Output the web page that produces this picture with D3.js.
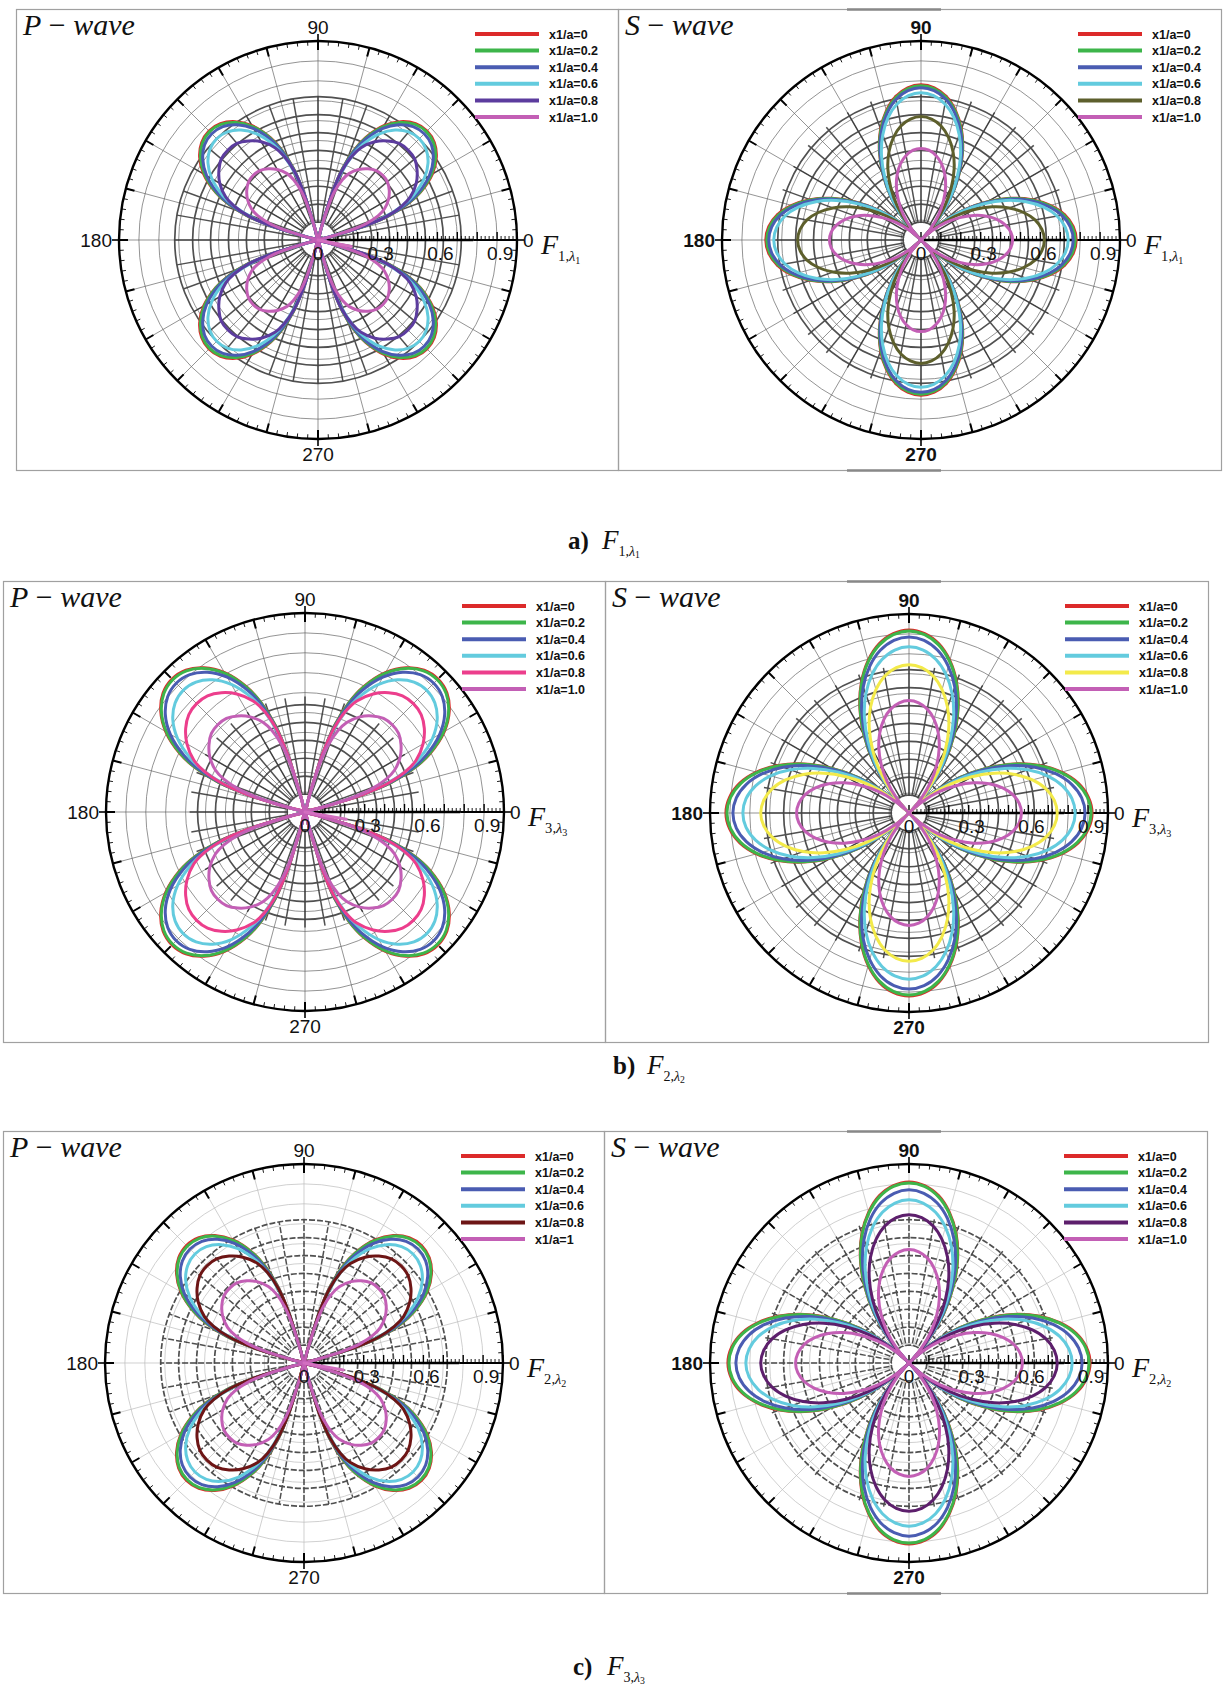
<!DOCTYPE html>
<html><head><meta charset="utf-8">
<script src="https://cdn.jsdelivr.net/npm/d3@7"></script>
<style>body{margin:0;background:#fff} svg{display:block}</style>
</head><body>
<svg id="chart" width="1223" height="1693"></svg>
<script>
// ---------- DATA ----------
const seriesLabels  = ["x1/a=0","x1/a=0.2","x1/a=0.4","x1/a=0.6","x1/a=0.8","x1/a=1.0"];
const seriesLabelsC = ["x1/a=0","x1/a=0.2","x1/a=0.4","x1/a=0.6","x1/a=0.8","x1/a=1"];
const angleLabels = [0, 90, 180, 270];
const radialTicks = [0, 0.3, 0.6, 0.9];
// angular offset (deg) from each lobe axis, at which radii were read
const devP = [0, 5, 10, 15, 20, 23, 26, 28, 30];
const devS = [0, 5, 10, 15, 20, 25, 30, 35, 40, 44];
// lobe axes
const lobesP = [45, 135, 225, 315];
const lobesS = [0, 90, 180, 270];

// (a) P-wave, F1
const aP = [
  [0.775,0.763,0.726,0.663,0.567,0.488,0.380,0.256,0.047],
  [0.770,0.758,0.721,0.658,0.564,0.485,0.377,0.254,0.046],
  [0.755,0.744,0.707,0.646,0.553,0.476,0.370,0.249,0.045],
  [0.720,0.709,0.675,0.616,0.527,0.454,0.353,0.238,0.043],
  [0.640,0.634,0.608,0.570,0.512,0.454,0.365,0.256,0.064],
  [0.460,0.455,0.437,0.409,0.368,0.327,0.262,0.184,0.046]
];
// (a) S-wave, F1
const aS = [
  [0.780,0.768,0.732,0.672,0.593,0.495,0.382,0.261,0.133,0.027],
  [0.775,0.763,0.727,0.668,0.589,0.492,0.380,0.260,0.132,0.027],
  [0.765,0.753,0.718,0.659,0.581,0.486,0.375,0.256,0.130,0.027],
  [0.740,0.728,0.694,0.638,0.562,0.470,0.363,0.248,0.126,0.026],
  [0.620,0.610,0.582,0.534,0.471,0.394,0.304,0.208,0.105,0.022],
  [0.460,0.453,0.431,0.397,0.350,0.292,0.225,0.154,0.078,0.016]
];
// (b) P-wave, F3
const bP = [
  [0.945,0.931,0.885,0.808,0.692,0.595,0.463,0.312,0.057],
  [0.940,0.926,0.881,0.804,0.688,0.592,0.461,0.310,0.056],
  [0.915,0.901,0.857,0.782,0.670,0.576,0.448,0.302,0.055],
  [0.865,0.852,0.811,0.740,0.633,0.545,0.424,0.285,0.052],
  [0.770,0.762,0.732,0.685,0.616,0.547,0.439,0.308,0.077],
  [0.620,0.614,0.589,0.552,0.496,0.440,0.353,0.248,0.062]
];
// (b) S-wave, F3
const bS = [
  [0.920,0.905,0.863,0.793,0.699,0.584,0.451,0.308,0.156,0.032],
  [0.915,0.900,0.858,0.789,0.695,0.581,0.448,0.307,0.156,0.032],
  [0.885,0.871,0.830,0.763,0.673,0.562,0.434,0.296,0.150,0.031],
  [0.835,0.822,0.783,0.720,0.635,0.530,0.409,0.280,0.142,0.029],
  [0.745,0.733,0.699,0.642,0.566,0.473,0.365,0.250,0.127,0.026],
  [0.565,0.556,0.530,0.487,0.429,0.359,0.277,0.189,0.096,0.020]
];
// (c) P-wave, F2
const cP = [
  [0.835,0.822,0.782,0.714,0.611,0.526,0.409,0.276,0.050],
  [0.830,0.818,0.778,0.710,0.608,0.523,0.407,0.274,0.050],
  [0.810,0.798,0.759,0.693,0.593,0.510,0.397,0.267,0.049],
  [0.775,0.763,0.726,0.663,0.567,0.488,0.380,0.256,0.047],
  [0.690,0.683,0.656,0.614,0.552,0.490,0.393,0.276,0.069],
  [0.530,0.525,0.504,0.472,0.424,0.376,0.302,0.212,0.053]
];
// (c) S-wave, F2
const cS = [
  [0.910,0.895,0.854,0.784,0.692,0.578,0.446,0.305,0.155,0.032],
  [0.905,0.891,0.849,0.780,0.688,0.575,0.443,0.303,0.154,0.032],
  [0.870,0.856,0.816,0.750,0.661,0.552,0.426,0.291,0.148,0.030],
  [0.820,0.807,0.769,0.707,0.623,0.521,0.402,0.275,0.139,0.029],
  [0.745,0.733,0.699,0.642,0.566,0.473,0.365,0.250,0.127,0.026],
  [0.570,0.561,0.535,0.491,0.433,0.362,0.279,0.191,0.097,0.020]
];
// short stray segment near the origin in P-wave plots: [radius, angle]
const spurP = {a:[0.17,-11], b:[0.21,-10], c:[0.20,-10]};

// ---------- STYLE / LAYOUT ----------
const baseColors = ["#dc2a2a","#3db54a","#4a5cb2","#63cbde"];
const colorLast = "#c35fb5";
const serif = "'Liberation Serif','Times New Roman',serif";
const sans = "'Liberation Sans',Arial,sans-serif";

const panels = [
  {data:aP, dev:devP, lobes:lobesP, box:[16,9,618,470],   cx:318, cy:240,  R:199, wave:"P", idx:"1", c08:"#5c3c9e", labels:seriesLabels,  darkMax:0.72, dash:null, thin:"#666", bold:false, spur:spurP.a, marks:null},
  {data:aS, dev:devS, lobes:lobesS, box:[618,9,1221,470], cx:921, cy:240,  R:199, wave:"S", idx:"1", c08:"#5d5f2c", labels:seriesLabels,  darkMax:0.74, dash:null, thin:"#666", bold:true,  spur:null, marks:[9,470]},
  {data:bP, dev:devP, lobes:lobesP, box:[3,581,605,1042], cx:305, cy:812,  R:199, wave:"P", idx:"3", c08:"#ec3e8c", labels:seriesLabels,  darkMax:0.58, dash:null, thin:"#666", bold:false, spur:spurP.b, marks:null},
  {data:bS, dev:devS, lobes:lobesS, box:[605,581,1208,1042],cx:909, cy:813, R:199, wave:"S", idx:"3", c08:"#f3ea4a", labels:seriesLabels,  darkMax:0.74, dash:null, thin:"#666", bold:true,  spur:null, marks:[581]},
  {data:cP, dev:devP, lobes:lobesP, box:[3,1131,604,1593],cx:304, cy:1363, R:199, wave:"P", idx:"2", c08:"#6d1515", labels:seriesLabelsC, darkMax:0.72, dash:"6,2", thin:"#bbb", bold:false, spur:spurP.c, marks:null},
  {data:cS, dev:devS, lobes:lobesS, box:[604,1131,1207,1593],cx:909, cy:1363,R:199, wave:"S", idx:"2", c08:"#5d1f6c", labels:seriesLabels,  darkMax:0.74, dash:"6,2", thin:"#bbb", bold:true,  spur:null, marks:[1131,1593]}
];
const captions = [
  {tag:"a)", idx:"1", x:568, y:549},
  {tag:"b)", idx:"2", x:613, y:1074},
  {tag:"c)", idx:"3", x:573, y:1675}
];

const svg = d3.select("#chart");
const rad = d => d*Math.PI/180;

function fLabel(sel, x, y, idx, size){
  const t = sel.append("text").attr("x",x).attr("y",y)
    .attr("font-family",serif).attr("font-size",size).attr("fill","#111");
  t.append("tspan").attr("font-style","italic").text("F");
  t.append("tspan").attr("font-size",size*0.52).attr("dy",size*0.25).text(idx+",");
  t.append("tspan").attr("font-size",size*0.52).attr("font-style","italic").text("λ");
  t.append("tspan").attr("font-size",size*0.36).attr("dy",size*0.1).text(idx);
}

function drawPanel(p){
  const g = svg.append("g");
  const [x0,y0,x1,y1] = p.box;
  g.append("rect").attr("x",x0+0.5).attr("y",y0+0.5).attr("width",x1-x0).attr("height",y1-y0)
    .attr("fill","none").attr("stroke","#a0a0a0").attr("stroke-width",1.2);
  if (p.marks) p.marks.forEach(yy => g.append("line")
    .attr("x1",847).attr("x2",941).attr("y1",yy+0.5).attr("y2",yy+0.5)
    .attr("stroke","#888").attr("stroke-width",2.5));

  const rs = d3.scaleLinear().domain([0,1]).range([0,p.R]);
  const pt = (r,deg) => [p.cx + rs(r)*Math.cos(rad(deg)), p.cy - rs(r)*Math.sin(rad(deg))];

  // thin grid
  d3.range(1,10).forEach(k => g.append("circle").attr("cx",p.cx).attr("cy",p.cy).attr("r",rs(k/10))
    .attr("fill","none").attr("stroke",p.thin).attr("stroke-width",0.7));
  d3.range(0,360,15).forEach(a => { const e = pt(1,a);
    g.append("line").attr("x1",p.cx).attr("y1",p.cy).attr("x2",e[0]).attr("y2",e[1])
      .attr("stroke",p.thin).attr("stroke-width",0.7); });

  // dark inner grid
  const dk = g.append("g").attr("stroke","#2a2a2a").attr("fill","none").attr("opacity",0.82);
  d3.range(0.09, p.darkMax+0.001, 0.09).forEach(r => dk.append("circle")
    .attr("cx",p.cx).attr("cy",p.cy).attr("r",rs(r)).attr("stroke-width",1.7)
    .attr("stroke-dasharray",p.dash));
  d3.range(0,360,10).forEach(a => { const s = pt(0.06,a), e = pt(p.darkMax,a);
    dk.append("line").attr("x1",s[0]).attr("y1",s[1]).attr("x2",e[0]).attr("y2",e[1])
      .attr("stroke-width",1.5).attr("stroke-dasharray",p.dash); });
  g.append("circle").attr("cx",p.cx).attr("cy",p.cy).attr("r",rs(0.085)).attr("fill","#fff");

  // outer ring
  g.append("circle").attr("cx",p.cx).attr("cy",p.cy).attr("r",rs(1))
    .attr("fill","none").attr("stroke","#000").attr("stroke-width",2.4);
  d3.range(0,360,3).forEach(a => { const major = a%15===0;
    const s = pt(1,a), e = pt(1 - (major?9:4.5)/p.R, a);
    g.append("line").attr("x1",s[0]).attr("y1",s[1]).attr("x2",e[0]).attr("y2",e[1])
      .attr("stroke","#000").attr("stroke-width",major?2:0.9); });
  angleLabels.forEach(a => { const s = pt(1,a), e = pt(1+7/p.R,a);
    g.append("line").attr("x1",s[0]).attr("y1",s[1]).attr("x2",e[0]).attr("y2",e[1])
      .attr("stroke","#000").attr("stroke-width",1.6); });

  // radial axis at 0 deg
  g.append("line").attr("x1",p.cx).attr("y1",p.cy).attr("x2",p.cx+rs(0.78)).attr("y2",p.cy)
    .attr("stroke","#000").attr("stroke-width",2.6);
  g.append("line").attr("x1",p.cx+rs(0.78)).attr("y1",p.cy).attr("x2",p.cx+rs(1)).attr("y2",p.cy)
    .attr("stroke","#000").attr("stroke-width",1.8);
  d3.range(0,51).forEach(i => { const v = i/50;
    const len = i%5===0 ? 8 : 4;
    g.append("line").attr("x1",p.cx+rs(v)).attr("x2",p.cx+rs(v)).attr("y1",p.cy).attr("y2",p.cy-len)
      .attr("stroke","#000").attr("stroke-width", i%5===0 ? 1.4 : 0.9); });

  // curves
  const line = d3.line().curve(d3.curveCatmullRomClosed.alpha(0.5));
  const cols = baseColors.concat([p.c08, colorLast]);
  p.data.forEach((vals, si) => {
    const pts = [];
    p.lobes.forEach(c => {
      for (let i = p.dev.length-1; i > 0; i--) pts.push(pt(vals[i], c - p.dev[i]));
      for (let i = 0; i < p.dev.length; i++) pts.push(pt(vals[i], c + p.dev[i]));
      pts.push(pt(0, c + 45));
    });
    g.append("path").attr("d",line(pts)).attr("fill","none").attr("stroke",cols[si])
      .attr("stroke-width",3).attr("stroke-linejoin","round");
  });
  if (p.spur) { const e = pt(p.spur[0], p.spur[1]);
    g.append("line").attr("x1",p.cx).attr("y1",p.cy).attr("x2",e[0]).attr("y2",e[1])
      .attr("stroke","#d36fc0").attr("stroke-width",3).attr("stroke-linecap","round"); }

  // angle labels
  const lab = (x,y,t,anchor,b) => g.append("text").attr("x",x).attr("y",y).attr("text-anchor",anchor)
    .attr("font-family",sans).attr("font-size",19).attr("font-weight",b?"bold":"normal")
    .attr("fill","#111").text(t);
  lab(p.cx, p.cy - p.R - 7, "90", "middle", p.bold);
  lab(p.cx, p.cy + p.R + 22, "270", "middle", p.bold);
  lab(p.cx - p.R - 7, p.cy + 7, "180", "end", p.bold);
  lab(p.cx + p.R + 6, p.cy + 7, "0", "start", false);
  fLabel(g, p.cx + p.R + 24, p.cy + 14, p.idx, 28);

  // radial tick labels
  radialTicks.forEach(v => g.append("text").attr("x",p.cx + rs(v) + (v?3:0)).attr("y",p.cy+20)
    .attr("text-anchor","middle").attr("font-family",sans).attr("font-size",19).attr("fill","#111")
    .text(v===0?"0":d3.format(".1f")(v)));

  // title
  const t = g.append("text").attr("x",x0+7).attr("y",y0+26).attr("font-family",serif)
    .attr("font-size",30).attr("fill","#111");
  t.append("tspan").attr("font-style","italic").text(p.wave);
  t.append("tspan").text(" \u2212 ");
  t.append("tspan").attr("font-style","italic").text("wave");

  // legend
  p.labels.forEach((s,i) => { const y = y0 + 25 + i*16.6;
    g.append("line").attr("x1",x1-143).attr("x2",x1-79).attr("y1",y).attr("y2",y)
      .attr("stroke",cols[i]).attr("stroke-width",4);
    g.append("text").attr("x",x1-69).attr("y",y+4.5).attr("font-family",sans)
      .attr("font-size",12.5).attr("font-weight","bold").attr("fill","#111").text(s);
  });
}

panels.forEach(drawPanel);

captions.forEach(c => {
  svg.append("text").attr("x",c.x).attr("y",c.y).attr("font-family",serif)
    .attr("font-size",25).attr("font-weight","bold").attr("fill","#111").text(c.tag);
  fLabel(svg, c.x + 34, c.y, c.idx, 27);
});
</script>
</body></html>
